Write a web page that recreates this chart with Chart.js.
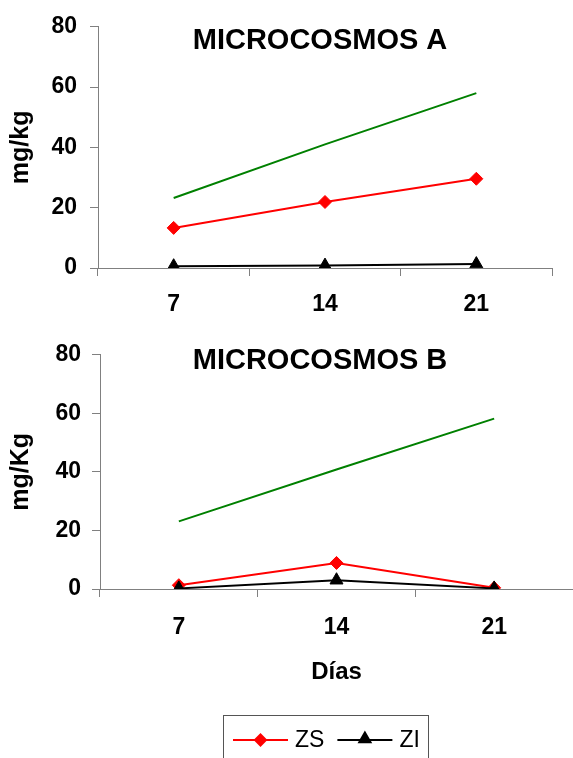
<!DOCTYPE html>
<html>
<head>
<meta charset="utf-8">
<script src="https://cdn.jsdelivr.net/npm/chart.js@4/dist/chart.umd.min.js"></script>
<style>
  html, body { margin: 0; padding: 0; background: #ffffff; }
  body { width: 573px; height: 758px; position: relative; overflow: hidden; }
  #chartA { position: absolute; left: 0; top: 0; }
  #chartB { position: absolute; left: 0; top: 330px; }
</style>
</head>
<body>
<canvas id="chartA" width="573" height="330"></canvas>
<canvas id="chartB" width="573" height="428"></canvas>
<script>
// Sampling days (x categories) and y-axis ticks
const days = ['7', '14', '21'];
const yTicks = [0, 20, 40, 60, 80];

// Microcosmos A (mg/kg)
const zsA = [13.3, 21.9, 29.6];
const ziA = [0.6, 0.8, 1.3];
const refA = [23.2, 41.0, 58.0];

// Microcosmos B (mg/Kg)
const zsB = [1.3, 8.9, 0.4];
const ziB = [0.2, 3.0, 0.2];
const refB = [23.1, 40.8, 58.2];

// Series shown in the legend box
const legendSeries = ['ZS', 'ZI'];

const FONT = "'Liberation Sans', Arial, Helvetica, sans-serif";

// Bold panel heading drawn inside the plot area
const panelTitle = {
  id: 'panelTitle',
  afterDraw(chart, args, opts) {
    const ctx = chart.ctx;
    ctx.save();
    ctx.font = 'bold ' + opts.size + 'px ' + FONT;
    ctx.fillStyle = '#000000';
    ctx.textAlign = 'center';
    ctx.textBaseline = 'middle';
    ctx.fillText(opts.text, opts.x, opts.y);
    ctx.restore();
  }
};

// Framed legend with line + marker samples
const boxLegend = {
  id: 'boxLegend',
  afterDraw(chart, args, opts) {
    if (!opts.display) return;
    const ctx = chart.ctx;
    ctx.save();
    ctx.strokeStyle = opts.borderColor;
    ctx.lineWidth = 1;
    ctx.strokeRect(opts.left + 0.5, opts.top + 0.5, opts.width, opts.height);
    ctx.font = opts.size + 'px ' + FONT;
    ctx.textBaseline = 'middle';
    ctx.textAlign = 'left';
    let x = opts.left + opts.padLeft;
    const y = opts.rowY;
    chart.data.datasets.forEach(ds => {
      if (!legendSeries.includes(ds.label)) return;
      ctx.strokeStyle = ds.borderColor;
      ctx.fillStyle = ds.backgroundColor;
      ctx.lineWidth = ds.borderWidth;
      ctx.beginPath();
      ctx.moveTo(x, y);
      ctx.lineTo(x + opts.lineLen, y);
      ctx.stroke();
      const r = ds.pointStyle === 'triangle' ? 6.5 : 5.5;
      Chart.helpers.drawPoint(ctx, { pointStyle: ds.pointStyle, rotation: 0, radius: r, borderWidth: 1 },
        x + opts.lineLen / 2, ds.pointStyle === 'triangle' ? y - 1 : y);
      ctx.fillStyle = '#000000';
      ctx.fillText(ds.label, x + opts.lineLen + 7, y + 1);
      x += opts.lineLen + 7 + ctx.measureText(ds.label).width + 13;
    });
    ctx.restore();
  }
};

function buildPanel(id, cfg) {
  return new Chart(document.getElementById(id), {
    type: 'line',
    data: {
      labels: days,
      datasets: [
        { label: 'ZS', data: cfg.zs, borderColor: '#ff0000', backgroundColor: '#ff0000',
          borderWidth: 2, pointStyle: 'rectRot', pointRadius: 6.5, pointBorderWidth: 1,
          order: 1, tension: 0 },
        { label: 'ZI', data: cfg.zi, borderColor: '#000000', backgroundColor: '#000000',
          borderWidth: 2, pointStyle: 'triangle', pointRadius: 7.5, pointBorderWidth: 1,
          order: 0, tension: 0 },
        { label: 'ref', data: cfg.ref, borderColor: '#008000', backgroundColor: '#008000',
          borderWidth: 2, pointRadius: 0, order: 2, tension: 0 }
      ]
    },
    plugins: [panelTitle, boxLegend],
    options: {
      responsive: false,
      animation: false,
      events: [],
      layout: { padding: cfg.padding, autoPadding: false },
      plugins: {
        legend: { display: false },
        tooltip: { enabled: false },
        title: { display: false },
        panelTitle: { text: cfg.title, x: 320, y: cfg.titleY, size: 29 },
        boxLegend: cfg.legend
      },
      scales: {
        x: {
          offset: true,
          grid: { offset: true, drawOnChartArea: false, drawTicks: true, tickLength: 8,
                  color: '#808080', lineWidth: 1 },
          border: { color: '#808080', width: 1 },
          ticks: { color: '#000000', padding: cfg.xPad, maxRotation: 0,
                   font: { family: FONT, size: 23, weight: 'bold', lineHeight: 1.2 } },
          title: { display: !!cfg.xTitle, text: cfg.xTitle || '', color: '#000000',
                   padding: { top: 0, bottom: 12 },
                   font: { family: FONT, size: 24, weight: 'bold', lineHeight: 1.2 } },
          afterFit: s => { s.height = cfg.xHeight; }
        },
        y: {
          min: 0, max: 80,
          afterBuildTicks: s => { s.ticks = yTicks.map(v => ({ value: v })); },
          grid: { drawOnChartArea: false, drawTicks: true, tickLength: 8,
                  color: '#808080', lineWidth: 1 },
          border: { color: '#808080', width: 1 },
          ticks: { color: '#000000', padding: cfg.yPad,
                   font: { family: FONT, size: 23, weight: 'bold', lineHeight: 1.2 } },
          title: { display: true, text: cfg.yTitle, color: '#000000',
                   padding: { top: 6, bottom: 0 },
                   font: { family: FONT, size: 25, weight: 'bold', lineHeight: 1.2 } },
          afterFit: s => { s.width = cfg.yWidth; }
        }
      }
    }
  });
}

buildPanel('chartA', {
  zs: zsA, zi: ziA, ref: refA,
  title: 'MICROCOSMOS A', titleY: 41,
  yTitle: 'mg/kg',
  padding: { top: 25, right: 21, bottom: 0, left: 0 },
  yWidth: 98, yPad: 13,
  xHeight: 62, xPad: 15,
  legend: { display: false }
});

buildPanel('chartB', {
  zs: zsB, zi: ziB, ref: refB,
  title: 'MICROCOSMOS B', titleY: 31,
  yTitle: 'mg/Kg', xTitle: 'Días',
  padding: { top: 13, right: 0, bottom: 59, left: 0 },
  yWidth: 100, yPad: 11,
  xHeight: 110, xPad: 17,
  legend: { display: true, left: 223, top: 385, width: 205, height: 70,
            rowY: 410, padLeft: 10, lineLen: 55, size: 23, borderColor: '#555555' }
});
</script>
</body>
</html>
